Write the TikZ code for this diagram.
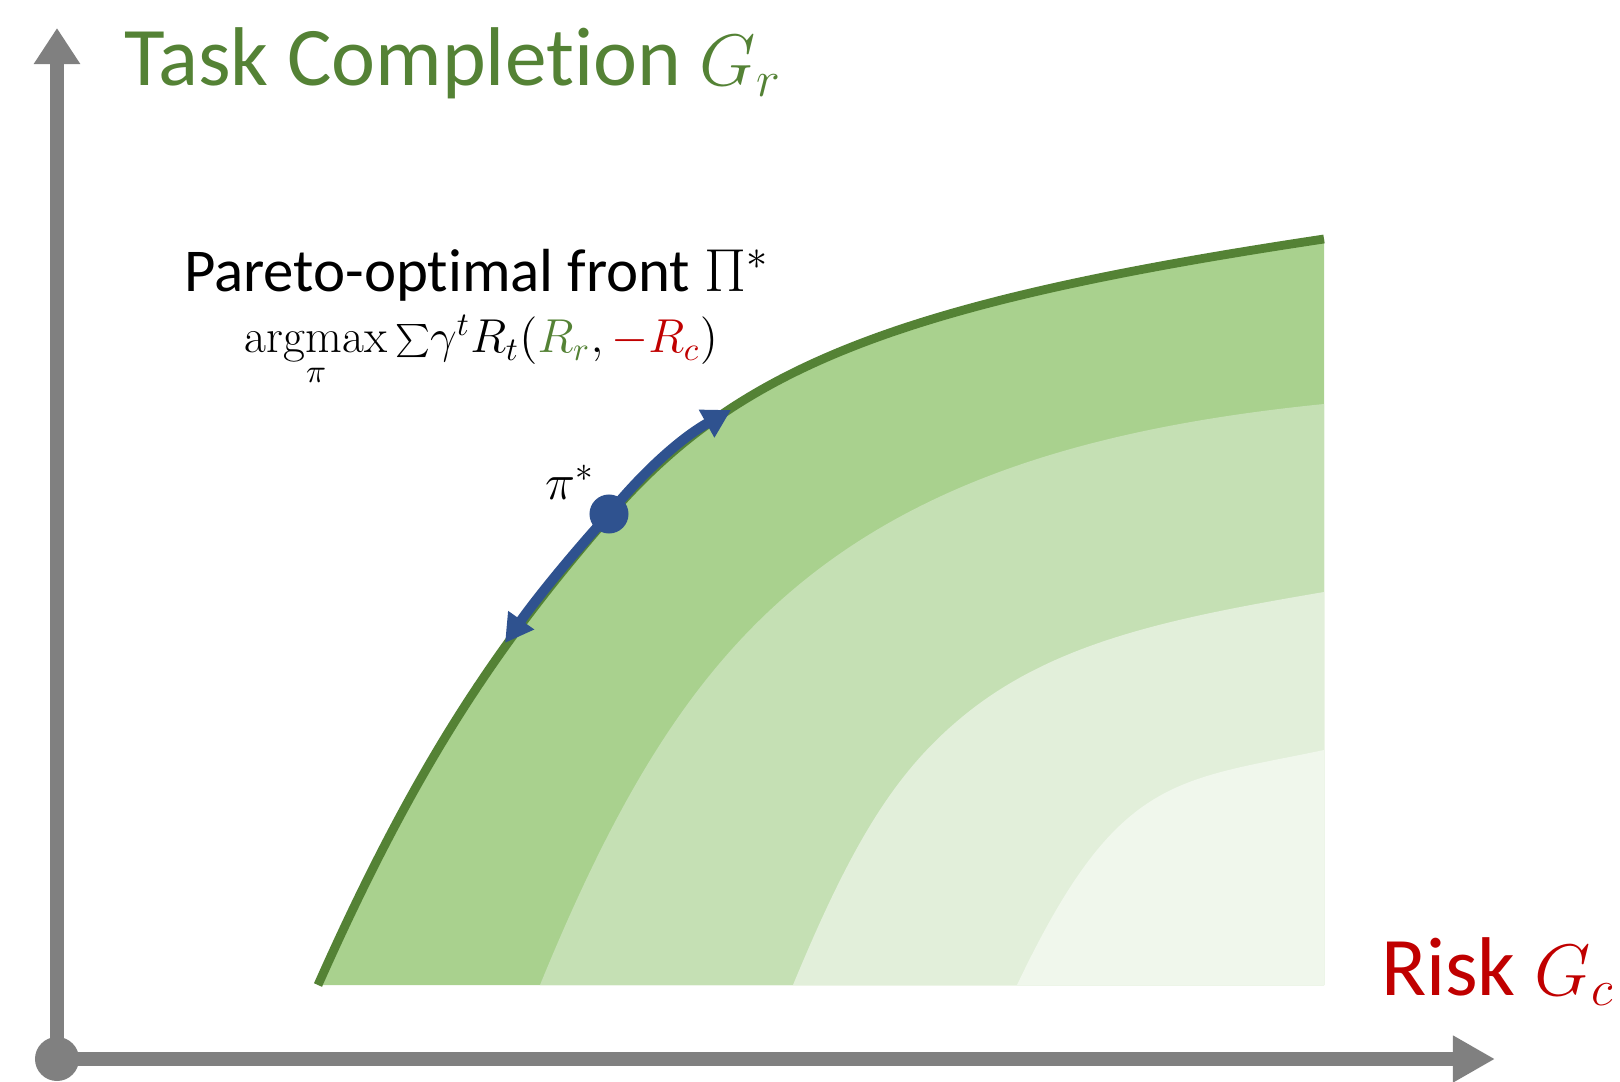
\documentclass[tikz,border=0pt]{standalone}
\usepackage{fontspec}
\setmainfont{Carlito}[Ligatures={NoCommon}]
\setmathrm{Latin Modern Roman}
\usetikzlibrary{arrows.meta}
\definecolor{axisgray}{HTML}{808080}
\definecolor{frontgreen}{HTML}{548235}
\definecolor{riskred}{HTML}{C00000}
\definecolor{optblue}{HTML}{2F528F}
\definecolor{bandA}{HTML}{A9D18E}
\definecolor{bandB}{HTML}{C5E0B4}
\definecolor{bandC}{HTML}{E2EFDA}
\definecolor{bandD}{HTML}{F0F7EC}
\begin{document}
\begin{tikzpicture}[x=0.01cm,y=-0.01cm,
  axisline/.style={draw=axisgray, line width=0.14cm},
  frontline/.style={draw=frontgreen, line width=0.088cm},
  optarrow/.style={draw=optblue, line width=0.1cm, -{Triangle[length=0.28cm,width=0.3cm]}},
  lbl/.style={inner sep=0pt, outer sep=0pt},
]
\useasboundingbox (0,0) rectangle (1620,1082);
% bands
\fill[bandA] (318,985) .. controls (418,760) and (500,641.5) .. (610,515)
  .. controls (740,365) and (904,302) .. (1324,239) -- (1324,985) -- cycle;
\fill[bandB] (540,985) .. controls (610,814) and (677,698.5) .. (767,613)
  .. controls (897,489.5) and (1074,429) .. (1324,404) -- (1324,985) -- cycle;
\fill[bandC] (793,985) .. controls (853,840) and (897,769) .. (967,713)
  .. controls (1057,641) and (1174,617.5) .. (1324,592) -- (1324,985) -- cycle;
\fill[bandD] (1017,985) .. controls (1117,775) and (1174,781.5) .. (1324,750) -- (1324,985) -- cycle;
% pareto front
\draw[frontline] (318,985) .. controls (418,760) and (500,641.5) .. (610,515)
  .. controls (740,365) and (904,302) .. (1324,239);
% axes
\node[circle, fill=axisgray, minimum size=0.44cm, inner sep=0pt] (origin) at (57,1059) {};
\coordinate (ytip) at (57,28);
\coordinate (xtip) at (1495,1059);
\draw[axisline, -{Triangle[length=0.36cm,width=0.44cm]}] (origin.center) -- (ytip);
\draw[axisline, -{Triangle[length=0.42cm,width=0.44cm]}] (origin.center) -- (xtip);
% optimal policy
\node[circle, fill=optblue, minimum size=0.39cm, inner sep=0pt] (pistar) at (609,514) {};
\coordinate (upper) at (731,410);
\coordinate (lower) at (505,643);
\draw[optarrow] (pistar.center) .. controls (643,472) and (681,438) .. (upper);
\draw[optarrow] (pistar.center) .. controls (571,556) and (537,598) .. (lower);
\node[lbl, anchor=base east, font=\fontsize{14.4}{16}\selectfont] (pilabel) at (595,500) {$\pi^*$};
% texts
\node[lbl, anchor=base west, text=frontgreen, font=\fontsize{23.7}{28}\selectfont] (ytitle) at (124,86) {Task Completion {\fontsize{20.74}{24}\selectfont$G_r$}};
\node[lbl, anchor=base west, text=riskred, font=\fontsize{23.7}{28}\selectfont] (xtitle) at (1381,995) {Risk {\fontsize{20.74}{24}\selectfont$G_c$}};
\node[lbl, anchor=base west, font=\fontsize{17.3}{20}\selectfont] (front) at (184,292) {Pareto-optimal front $\Pi^*$};
\node[lbl, anchor=base west, font=\fontsize{14.4}{16}\selectfont] (formula) at (245,353) {\scalebox{0.94}{$\mathop{\mathrm{argmax}}\limits_{\pi}{\textstyle\sum}\gamma^t R_t(\textcolor{frontgreen}{R_r}, \textcolor{riskred}{-R_c})$}};
\end{tikzpicture}
\end{document}
